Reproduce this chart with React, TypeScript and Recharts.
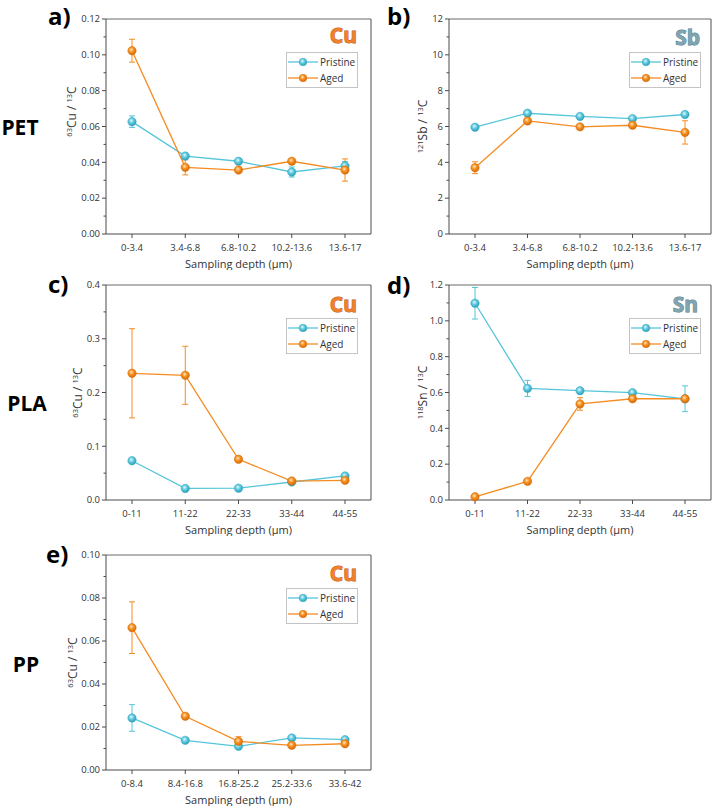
import React from 'react'
import { LineChart, Line, XAxis, YAxis, ErrorBar, Legend, CartesianGrid } from 'recharts'

const FONT = '"Open Sans", "Noto Sans", sans-serif'
const AXIS = '#4a4a4a'
const TEXT = '#333333'
const CYAN = '#55c5da'
const ORANGE = '#f58c22'

// PET, copper
const petDepths = ['0-3.4', '3.4-6.8', '6.8-10.2', '10.2-13.6', '13.6-17']
const petCuPristine = [0.0627, 0.0435, 0.0406, 0.0346, 0.038]
const petCuPristineErr = [0.0032, 0.0015, 0.001, 0.0028, 0.0025]
const petCuAged = [0.1023, 0.0372, 0.0357, 0.0406, 0.0357]
const petCuAgedErr = [0.0064, 0.0042, 0.001, 0.001, 0.0062]

// PET, antimony
const petSbPristine = [5.96, 6.74, 6.56, 6.44, 6.67]
const petSbPristineErr = [0.1, 0.12, 0.12, 0.1, 0.12]
const petSbAged = [3.7, 6.31, 5.98, 6.07, 5.67]
const petSbAgedErr = [0.33, 0.15, 0.1, 0.1, 0.65]

// PLA, copper
const plaDepths = ['0-11', '11-22', '22-33', '33-44', '44-55']
const plaCuPristine = [0.073, 0.0215, 0.022, 0.0335, 0.0447]
const plaCuPristineErr = [0.002, 0.001, 0.001, 0.002, 0.002]
const plaCuAged = [0.2357, 0.232, 0.0757, 0.0353, 0.0366]
const plaCuAgedErr = [0.083, 0.054, 0.003, 0.002, 0.002]

// PLA, tin
const plaSnPristine = [1.098, 0.623, 0.61, 0.599, 0.565]
const plaSnPristineErr = [0.088, 0.045, 0.01, 0.01, 0.072]
const plaSnAged = [0.018, 0.104, 0.536, 0.565, 0.565]
const plaSnAgedErr = [0.005, 0.012, 0.035, 0.012, 0.01]

// PP, copper
const ppDepths = ['0-8.4', '8.4-16.8', '16.8-25.2', '25.2-33.6', '33.6-42']
const ppCuPristine = [0.0242, 0.0138, 0.011, 0.0149, 0.0141]
const ppCuPristineErr = [0.0062, 0.0008, 0.0008, 0.0008, 0.0008]
const ppCuAged = [0.0662, 0.025, 0.0133, 0.0115, 0.0122]
const ppCuAgedErr = [0.012, 0.0008, 0.0022, 0.0008, 0.0008]

const SERIES = [
  { key: 'pristine', name: 'Pristine', color: CYAN, grad: 'ballPristine', edge: '#33a9c0' },
  { key: 'aged', name: 'Aged', color: ORANGE, grad: 'ballAged', edge: '#d26c0c' },
]

function makeRows(depths: string[], p: number[], pe: number[], a: number[], ae: number[]) {
  return depths.map((d, i) => ({
    depth: d,
    pristine: p[i],
    pristineErr: pe[i],
    aged: a[i],
    agedErr: ae[i],
  }))
}

function YTick(props: any) {
  const { x, y, payload, step, decimals } = props
  const v = payload.value
  const major = Math.abs(v / step - Math.round(v / step)) < 1e-6
  return (
    <g>
      <line x1={x - (major ? 4 : 2.5)} x2={x} y1={y} y2={y} stroke={AXIS} strokeWidth={1} />
      {major && (
        <text x={x - 6} y={y} dy="0.35em" textAnchor="end" fontSize={9.5} fill={TEXT} fontFamily={FONT}>
          {v.toFixed(decimals)}
        </text>
      )}
    </g>
  )
}

function YLabel(props: any) {
  const { viewBox, gap, shift, iso, el } = props
  const cx = viewBox.x + viewBox.width - gap
  const cy = viewBox.y + viewBox.height / 2 + shift
  return (
    <text
      x={cx}
      y={cy + 4}
      transform={`rotate(-90 ${cx} ${cy})`}
      textAnchor="middle"
      fill={TEXT}
      fontFamily={FONT}
      fontSize={12}
    >
      <tspan fontSize={7.5} dy={-4.5}>{iso}</tspan>
      <tspan dy={4.5}>{el} / </tspan>
      <tspan fontSize={7.5} dy={-4.5}>13</tspan>
      <tspan dy={4.5}>C</tspan>
    </text>
  )
}

function LegendBox() {
  return (
    <div
      style={{
        width: 72,
        boxSizing: 'border-box',
        border: '1px solid #c4c4c4',
        background: '#fff',
        padding: '1px 0 1px 1px',
        fontFamily: FONT,
        fontSize: 10,
        color: TEXT,
        lineHeight: '16px',
      }}
    >
      {SERIES.map((s) => (
        <div key={s.key} style={{ display: 'flex', alignItems: 'center' }}>
          <svg width={30} height={10} style={{ display: 'block' }}>
            <line x1={0} x2={30} y1={5} y2={5} stroke={s.color} strokeWidth={1.3} />
            <circle cx={15} cy={5} r={3.8} fill={`url(#${s.grad})`} stroke={s.edge} strokeWidth={0.5} />
          </svg>
          <span style={{ marginLeft: 2 }}>{s.name}</span>
        </div>
      ))}
    </div>
  )
}

type PanelProps = {
  left: number
  top: number
  width: number
  marginRight: number
  depths: string[]
  p: number[]
  pe: number[]
  a: number[]
  ae: number[]
  yMax: number
  step: number
  decimals: number
  iso: string
  el: string
  labelGap: number
  labelShift?: number
}

const H = 270
const M_TOP = 19
const M_LEFT = 60
const Y_W = 46
const X_H = 36
const X_PAD = 26

function Panel(props: PanelProps) {
  const { left, top, width, marginRight, depths, p, pe, a, ae, yMax, step, decimals } = props
  const rows = makeRows(depths, p, pe, a, ae)
  const n = Math.round(yMax / (step / 2))
  const ticks = Array.from({ length: n + 1 }, (_, i) => Number(((i * step) / 2).toFixed(6)))
  const plotTop = M_TOP
  const plotRight = width - marginRight

  return (
    <div style={{ position: 'absolute', left, top }}>
      <LineChart
        width={width}
        height={H}
        data={rows}
        margin={{ top: M_TOP, right: marginRight, left: M_LEFT, bottom: 0 }}
      >
        <CartesianGrid
          stroke="#6a6a6a"
          strokeWidth={1.2}
          horizontalPoints={[plotTop]}
          verticalPoints={[plotRight]}
        />
        <XAxis
          dataKey="depth"
          interval={0}
          height={X_H}
          padding={{ left: X_PAD, right: X_PAD }}
          stroke={AXIS}
          tickSize={4}
          tickMargin={6}
          tick={{ fontSize: 9.5, fill: TEXT, fontFamily: FONT }}
          label={{
            value: 'Sampling depth (μm)',
            position: 'insideBottom',
            offset: 2,
            fontSize: 11,
            fill: TEXT,
            fontFamily: FONT,
          }}
        />
        <YAxis
          width={Y_W}
          domain={[0, yMax]}
          ticks={ticks}
          interval={0}
          stroke={AXIS}
          tickLine={false}
          tickSize={0}
          tickMargin={0}
          tick={<YTick step={step} decimals={decimals} />}
          label={
            <YLabel gap={props.labelGap} shift={props.labelShift ?? 0} iso={props.iso} el={props.el} />
          }
        />
        <Legend
          layout="vertical"
          align="center"
          verticalAlign="middle"
          wrapperStyle={{ left: 286, top: 52, width: 72 }}
          content={() => <LegendBox />}
        />
        {SERIES.map((s) => (
          <Line
            key={s.key}
            dataKey={s.key}
            name={s.name}
            stroke={s.color}
            strokeWidth={1.3}
            dot={{ r: 4.2, fill: `url(#${s.grad})`, stroke: s.edge, strokeWidth: 0.5 }}
            activeDot={false}
            isAnimationActive={false}
          >
            <ErrorBar dataKey={`${s.key}Err`} width={3} stroke={s.color} strokeWidth={1} direction="y" />
          </Line>
        ))}
      </LineChart>
    </div>
  )
}

function ElementTag({ x, y, text, fill, edge }: { x: number; y: number; text: string; fill: string; edge: string }) {
  return (
    <text
      x={x}
      y={y}
      textAnchor="end"
      fontFamily={FONT}
      fontWeight={700}
      fontSize={21}
      fill={fill}
      stroke={edge}
      strokeWidth={0.9}
      paintOrder="stroke"
    >
      {text}
    </text>
  )
}

export default function App() {
  const bold = { fontFamily: FONT, fontWeight: 700, fill: '#000' }
  return (
    <div style={{ position: 'absolute', left: 0, top: 0, width: 716, height: 809, overflow: 'hidden', background: '#fff' }}>
      <svg width={0} height={0} style={{ position: 'absolute' }}>
        <defs>
          <radialGradient id="ballPristine" cx="42%" cy="38%" r="62%">
            <stop offset="0%" stopColor="#e4f8fc" />
            <stop offset="45%" stopColor="#62cbe0" />
            <stop offset="100%" stopColor="#2b9fb7" />
          </radialGradient>
          <radialGradient id="ballAged" cx="42%" cy="38%" r="62%">
            <stop offset="0%" stopColor="#ffe6c4" />
            <stop offset="45%" stopColor="#f7921f" />
            <stop offset="100%" stopColor="#d56a08" />
          </radialGradient>
        </defs>
      </svg>

      <Panel left={0} top={0} width={380} marginRight={9} depths={petDepths}
        p={petCuPristine} pe={petCuPristineErr} a={petCuAged} ae={petCuAgedErr}
        yMax={0.12} step={0.02} decimals={2} iso="63" el="Cu" labelGap={34} labelShift={-15} />
      <Panel left={343} top={0} width={373} marginRight={5} depths={petDepths}
        p={petSbPristine} pe={petSbPristineErr} a={petSbAged} ae={petSbAgedErr}
        yMax={12} step={2} decimals={0} iso="121" el="Sb" labelGap={26} />
      <Panel left={0} top={266} width={380} marginRight={9} depths={plaDepths}
        p={plaCuPristine} pe={plaCuPristineErr} a={plaCuAged} ae={plaCuAgedErr}
        yMax={0.4} step={0.1} decimals={1} iso="63" el="Cu" labelGap={28} />
      <Panel left={343} top={266} width={373} marginRight={5} depths={plaDepths}
        p={plaSnPristine} pe={plaSnPristineErr} a={plaSnAged} ae={plaSnAgedErr}
        yMax={1.2} step={0.2} decimals={1} iso="118" el="Sn" labelGap={26} />
      <Panel left={0} top={536} width={380} marginRight={9} depths={ppDepths}
        p={ppCuPristine} pe={ppCuPristineErr} a={ppCuAged} ae={ppCuAgedErr}
        yMax={0.1} step={0.02} decimals={2} iso="63" el="Cu" labelGap={33} />

      <svg width={716} height={809} style={{ position: 'absolute', left: 0, top: 0, pointerEvents: 'none' }}>
        <text x={48} y={25} fontSize={24} {...bold}>a)</text>
        <text x={387} y={25} fontSize={24} {...bold}>b)</text>
        <text x={48} y={293} fontSize={24} {...bold}>c)</text>
        <text x={387} y={294} fontSize={24} {...bold}>d)</text>
        <text x={46} y={563} fontSize={24} {...bold}>e)</text>

        <text x={20} y={135} fontSize={21} textAnchor="middle" {...bold}>PET</text>
        <text x={27} y={411} fontSize={21} textAnchor="middle" {...bold}>PLA</text>
        <text x={26} y={672} fontSize={21} textAnchor="middle" {...bold}>PP</text>

        <ElementTag x={357} y={43} text="Cu" fill="#f27f2c" edge="#b55414" />
        <ElementTag x={700} y={45} text="Sb" fill="#80a5b0" edge="#4f7683" />
        <ElementTag x={357} y={312} text="Cu" fill="#f27f2c" edge="#b55414" />
        <ElementTag x={698} y={312} text="Sn" fill="#80a5b0" edge="#4f7683" />
        <ElementTag x={357} y={581} text="Cu" fill="#f27f2c" edge="#b55414" />
      </svg>
    </div>
  )
}
